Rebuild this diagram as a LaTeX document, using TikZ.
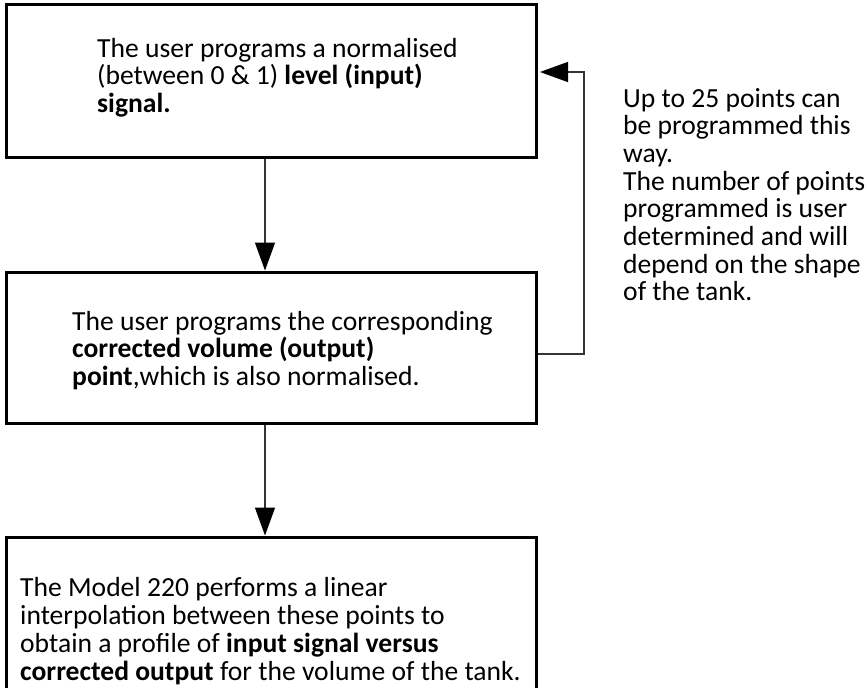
\documentclass[tikz,border=0pt]{standalone}
\usepackage{fontspec}
\setmainfont{Carlito}
\usetikzlibrary{arrows.meta}

\begin{document}
\begin{tikzpicture}[x=1pt, y=-1pt]
    \tikzstyle{stagebox} = [draw, line width=3pt, shape=rectangle, minimum width=530pt, inner sep=0pt]
    \tikzstyle{txt} = [anchor=base west, align=left, inner sep=0pt, font=\fontsize{27.6pt}{27.7pt}\selectfont]
    \tikzstyle{flow} = [line width=1.2pt, black!80, -{Triangle[length=28pt, width=20pt, black]}]
    \useasboundingbox (0, 0) rectangle (868, 688);
    % the three stages
    \node [stagebox, minimum height=153pt] (inputbox) at (271, 80.5) {};
    \node [stagebox, minimum height=151pt] (outputbox) at (271, 347.5) {};
    \node [stagebox, minimum height=153pt] (modelbox) at (271, 613.5) {};
    % base anchor sits on the last line
    \node [txt] (inputtxt) at (97, 112.4) {The user programs a normalised\\(between 0 \& 1) \textbf{level (input)}\\\textbf{signal.}};
    \node [txt] (outputtxt) at (72, 385.4) {The user programs the corresponding\\\textbf{corrected volume (output)}\\\textbf{point},which is also normalised.};
    \node [txt] (modeltxt) at (20, 680) {The Model 220 performs a linear\\interpolation between these points to\\obtain a profile of \textbf{input signal versus}\\\textbf{corrected output} for the volume of the tank.};
    \node [txt] (notetxt) at (623, 300.9) {Up to 25 points can\\be programmed this\\way.\\The number of points\\programmed is user\\determined and will\\depend on the shape\\of the tank.};
    % arrows
    \draw [flow] ([xshift=-6pt]inputbox.south) -- ([xshift=-6pt]outputbox.north);
    \draw [flow] ([xshift=-6pt]outputbox.south) -- ([xshift=-6pt]modelbox.north);
    \draw [flow] ([yshift=-6.5pt]outputbox.east) -- (584, 354) -- (584, 72) -- ([xshift=2.5pt, yshift=8.5pt]inputbox.east);
\end{tikzpicture}
\end{document}
